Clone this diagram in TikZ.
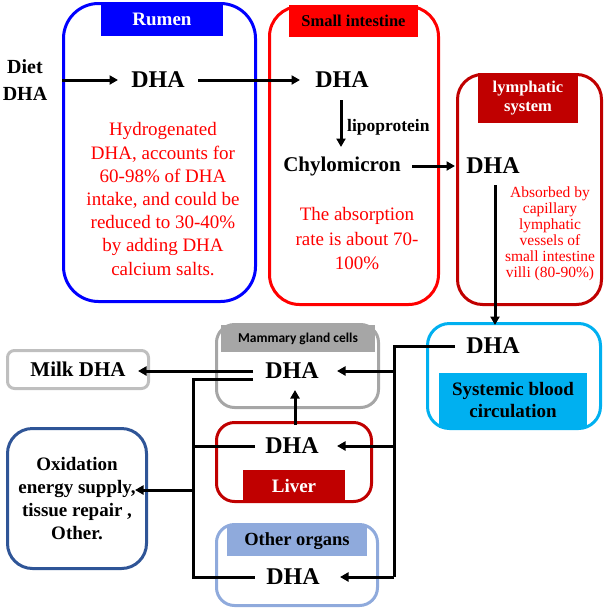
\documentclass[tikz,border=0pt]{standalone}
\usepackage{fontspec}
\setmainfont{Liberation Serif}
\newfontfamily\carl{Carlito}
\usetikzlibrary{arrows.meta,calc}
\definecolor{rblue}{RGB}{0,0,255}
\definecolor{rred}{RGB}{255,0,0}
\definecolor{dred}{RGB}{192,0,0}
\definecolor{sky}{RGB}{0,176,240}
\definecolor{mgray}{RGB}{166,166,166}
\definecolor{lgray}{RGB}{191,191,191}
\definecolor{lblue}{RGB}{143,170,220}
\definecolor{nblue}{RGB}{47,85,151}
\newcommand{\fs}[2]{\fontsize{#1}{#2}\selectfont}
\begin{document}
\begin{tikzpicture}[x=1pt,y=-1pt,
  orgbox/.style={draw, line width=3pt, rounded corners=#1, inner sep=0pt, fill=none},
  banner/.style={inner sep=0pt, align=center, font=\bfseries},
  lbl/.style={inner sep=0pt, align=center},
  dha/.style={inner sep=0pt, font=\fs{24}{28}\bfseries},
  conn/.style={line width=3pt, line join=miter},
  arr/.style={conn, -{Triangle[length=8.5pt,width=9pt]}}]
\useasboundingbox (0,0) rectangle (606,611);
% boxes
\node[orgbox=35, draw=rblue, minimum width=192, minimum height=298] (rumen) at (159.5,152.5) {};
\node[orgbox=30, draw=rred, minimum width=169, minimum height=298] (si) at (354,155.5) {};
\node[orgbox=25, draw=dred, minimum width=144, minimum height=230] (lymph) at (529.5,189.5) {};
\node[orgbox=22, draw=sky, minimum width=173, minimum height=105] (blood) at (514,376) {};
\node[orgbox=18, draw=mgray, minimum width=162, minimum height=83] (mam) at (297.5,366) {};
\node[orgbox=18, draw=dred, minimum width=155, minimum height=79] (liver) at (294,462) {};
\node[orgbox=18, draw=lblue, minimum width=161, minimum height=81] (other) at (297,565) {};
\node[orgbox=7, draw=lgray, minimum width=141, minimum height=38, font=\fs{21}{25}\bfseries] (milk) at (78,369.5) {Milk DHA};
\node[orgbox=25, draw=nblue, minimum width=139, minimum height=140, align=center, font=\fs{19}{23}\bfseries] (oxid) at (77,498.5) {Oxidation\\energy supply,\\tissue repair ,\\Other.};
% banners
\node[banner, fill=rblue, text=white, minimum width=122, minimum height=34, font=\fs{19}{21}\bfseries] (rumenT) at (162,19) {Rumen};
\node[banner, fill=rred, text=black, minimum width=129, minimum height=32, font=\fs{16.5}{19}\bfseries] (siT) at (353.5,21) {Small intestine};
\node[banner, fill=dred, text=white, minimum width=100, minimum height=50, font=\fs{16.5}{19}\bfseries] (lymphT) at (528,98) {lymphatic\\system};
\node[banner, fill=sky, text=black, minimum width=148, minimum height=55, font=\fs{19}{22}\bfseries] (bloodT) at (513,400.5) {Systemic blood\\circulation};
\node[banner, fill=mgray, text=black, minimum width=154, minimum height=27, font=\fs{13.5}{15}\carl\bfseries] (mamT) at (298,338.5) {Mammary gland cells};
\node[banner, fill=dred, text=white, minimum width=102, minimum height=32, font=\fs{19}{22}\bfseries] (liverT) at (294,486) {Liver};
\node[banner, fill=lblue, text=black, minimum width=140, minimum height=30, font=\fs{18.5}{22}\bfseries] (otherT) at (297,541) {Other organs};
% texts
\node[lbl, font=\fs{20}{27}\bfseries] (diet) at (25,80.5) {Diet\\DHA};
\node[dha] (rd) at (158,80) {DHA};
\node[dha] (sd) at (342,80) {DHA};
\node[dha] (ld) at (493,166) {DHA};
\node[dha] (bd) at (493,346) {DHA};
\node[dha] (md) at (292,371) {DHA};
\node[dha] (lvd) at (292,446) {DHA};
\node[dha] (od) at (293,577) {DHA};
\node[lbl, font=\fs{21}{25}\bfseries] (chylo) at (342,166) {Chylomicron};
\node[lbl, anchor=west, font=\fs{17.5}{20}\bfseries] (lipo) at (347,127) {lipoprotein};
\node[lbl, text=rred, font=\fs{19}{23.2}] (rtext) at (163,199) {Hydrogenated\\DHA, accounts for\\60-98\% of DHA\\intake, and could be\\reduced to 30-40\%\\by adding DHA\\calcium salts.};
\node[lbl, text=rred, font=\fs{19}{24.5}] (stext) at (357,239) {The absorption\\rate is about 70-\\100\%};
\node[lbl, text=rred, font=\fs{15.5}{16}] (ltext) at (550,234) {Absorbed by\\capillary\\lymphatic\\vessels of\\small intestine\\villi (80-90\%)};
% junctions
\coordinate (jr) at (394,577);
\coordinate (jl) at (193,577);
\coordinate (jo) at (193,490);
% connectors
\draw[arr] ([xshift=37pt]diet.center |- rd.center) -- ([xshift=-40pt]rd.center);
\draw[arr] ([xshift=40pt]rd.center) -- ([xshift=-42pt]sd.center);
\draw[arr] ([xshift=-1pt,yshift=-20pt]sd.center) -- ([xshift=-1pt,yshift=19pt]chylo.center);
\draw[arr] ([xshift=70pt]chylo.center) -- ([xshift=-38pt]ld.center);
\draw[arr] ([xshift=2pt,yshift=-19pt]ld.center) -- ([xshift=2pt,yshift=21pt]bd.center);
\draw[conn] ([xshift=-38pt]bd.center) -| (jr);
\draw[arr] (jr |- md.center) -- ([xshift=45pt]md.center);
\draw[arr] (jr |- lvd.center) -- ([xshift=45pt]lvd.center);
\draw[arr] (jr) -- ([xshift=47pt]od.center);
\draw[arr] ([xshift=3pt,yshift=21pt]lvd.center) -- ([xshift=3pt,yshift=-19pt]md.center);
\draw[arr] ([xshift=-39pt]md.center) -- ($(md.center -| milk.east)+(-12,0)$);
\draw[conn] ([xshift=-39pt,yshift=-8pt]md.center) -| (jl) -- ([xshift=-38pt]od.center);
\draw[conn] ([xshift=-37pt]lvd.center) -- (lvd.center -| jl);
\draw[arr] (jo) -- ($(jo -| oxid.east)+(-13,0)$);
\end{tikzpicture}
\end{document}
